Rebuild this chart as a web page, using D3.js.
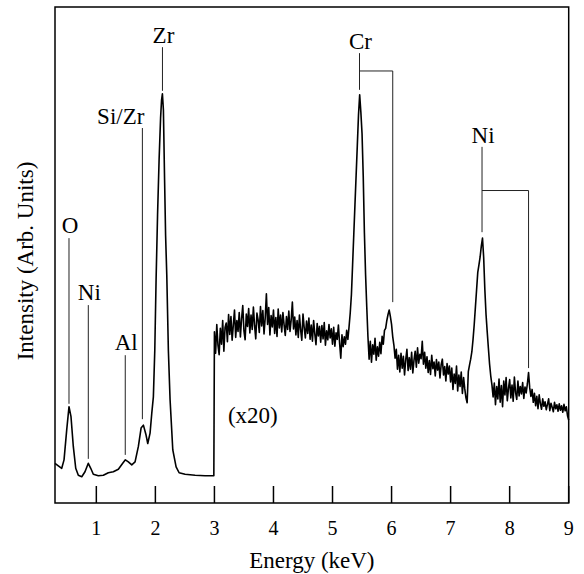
<!DOCTYPE html>
<html>
<head>
<meta charset="utf-8">
<script src="https://cdn.jsdelivr.net/npm/d3@7"></script>
</head>
<body style="margin:0">
<svg width="584" height="574"></svg>
<script>
var serif = "'Liberation Serif'"

// low energy part of the spectrum (smooth trace), keV / arb. units
var lowEnergy = [0.300,0.356,0.414,0.453,0.498,0.537,0.571,0.610,0.651,0.695,
                 0.753,0.808,0.864,0.905,0.949,1.034,1.119,1.203,1.288,1.373,
                 1.447,1.492,1.542,1.600,1.656,1.712,1.758,1.797,1.842,1.871,
                 1.910,1.939,1.966,1.990,2.012,2.037,2.063,2.088,2.105,2.119,
                 2.136,2.156,2.173,2.193,2.220,2.249,2.295,2.351,2.402,2.503,
                 2.673,2.842,2.990]
var lowCounts = [8.0,7.5,7.0,8.7,14.7,19.4,17.4,11.4,7.0,5.6,
                 5.3,6.3,8.0,7.0,5.8,5.5,5.6,6.1,6.3,6.8,
                 8.0,8.7,8.3,7.7,8.3,11.4,15.1,15.7,13.7,12.0,
                 14.1,18.1,21.4,30.8,45.0,58.1,69.2,77.6,81.3,82.5,
                 79.2,65.1,54.0,46.0,30.8,20.8,10.7,7.3,6.1,5.8,
                 5.6,5.5,5.5]

// high energy part (x20), one value per 20 eV channel
var chStart = 3.0
var chStep = 0.02
var highCounts = [
 34.5,30.2,36.0,31.8,29.9,35.2,32.0,36.8,30.6,35.4,
 36.3,32.5,38.0,34.0,37.6,32.8,35.9,38.9,33.4,36.8,
 34.6,38.4,33.5,37.2,39.8,34.7,32.9,38.1,35.6,39.2,
 34.3,37.9,35.0,39.5,35.8,33.1,38.3,36.9,34.4,39.6,
 35.7,38.8,34.1,37.3,42.2,36.0,39.4,33.9,37.8,35.5,
 38.9,34.2,37.4,33.6,39.1,35.3,37.9,34.5,38.4,35.9,
 33.8,37.6,35.0,38.7,34.6,36.9,40.5,35.1,37.5,33.9,
 36.8,33.4,37.9,34.9,32.8,38.1,35.4,33.3,36.7,34.2,
 37.3,33.0,35.9,32.6,36.8,34.1,31.9,36.2,33.7,35.6,
 32.4,35.8,33.1,36.4,31.8,34.7,32.9,36.0,33.3,35.1,
 32.0,35.4,31.6,34.3,33.0,35.9,32.2,29.2,33.9,31.5,
 33.5,32.0,34.8,33.0,35.5,38.3,42.0,48.0,54.1,60.1,
 66.1,72.1,78.2,82.3,78.8,74.5,66.0,54.5,46.0,39.5,
 33.5,29.0,32.6,28.4,31.9,30.0,33.2,28.8,31.5,29.6,
 32.4,30.1,33.6,32.0,34.8,35.2,36.8,38.0,38.9,37.6,
 36.0,33.5,31.8,29.2,31.0,27.0,29.8,26.4,30.2,27.2,
 29.6,25.8,28.9,31.0,26.7,29.3,27.0,30.4,26.2,28.8,
 30.6,27.4,31.3,28.2,30.0,29.1,32.6,28.0,30.4,27.2,
 29.5,26.3,28.7,25.9,29.8,27.1,28.4,25.6,28.9,26.8,
 28.4,25.2,27.9,29.0,25.8,27.5,24.6,28.1,26.0,27.6,
 24.4,27.2,22.9,26.0,24.1,27.6,22.6,25.8,23.5,26.4,
 22.1,25.3,23.0,21.2,20.2,26.5,27.8,29.0,30.5,33.0,
 36.0,39.5,43.0,46.5,48.0,49.6,51.8,53.4,49.5,43.0,
 38.0,34.5,31.2,28.0,25.6,23.8,21.4,24.2,19.8,23.5,
 21.0,25.0,20.3,23.7,19.4,24.6,21.8,25.3,20.6,23.1,
 24.9,21.2,23.8,20.5,25.4,22.3,20.9,24.6,21.6,23.5,
 22.0,24.3,21.1,23.4,22.2,24.0,26.3,23.2,21.5,22.9,
 20.3,22.1,19.6,21.5,19.0,21.8,20.1,18.9,21.0,19.5,
 20.4,18.8,19.9,21.0,18.6,20.1,19.3,18.4,20.3,19.0,
 19.8,18.5,20.0,18.7,19.6,18.3,19.9,18.6,19.4,17.6,
 16.7]

var xTicks = [1,2,3,4,5,6,7,8,9]

var peakNames = ["O","Ni","Al","Si/Zr","Zr","Cr","Ni"]
var peakEnergies = [0.537,0.864,1.49,1.78,2.12,5.457,7.532]
var betaEnergies = [null,null,null,null,null,6.02,8.32]

// serif text with the font set the plain way
var addText = function(parent,str,size)
{
    return parent.append("text")
        .attr("font-size",size)
        .style("font-family",serif)
        .text(str)
}

var drawAxes = function(graph,target,xScale)
{
    // ticks drawn by hand from the scale, pointing into the plot
    var axisG = target.append("g")
        .attr("transform","translate(0,"+graph.height+")")

    var ticks = axisG.selectAll("g.tick")
        .data(xTicks)
        .enter()
        .append("g")
        .attr("class","tick")
        .attr("transform",function(d){return "translate("+xScale(d)+",0)"})

    ticks.append("line")
        .attr("y1",0).attr("y2",-17)
        .attr("stroke","#000").attr("stroke-width",1.5)

    ticks.each(function(d)
    {
        addText(d3.select(this),d,20)
            .attr("text-anchor","middle")
            .attr("y",32)
    })

    // frame
    target.append("rect")
        .attr("x",0).attr("y",0)
        .attr("width",graph.width).attr("height",graph.height)
        .attr("fill","none")
        .attr("stroke","#000")
        .attr("stroke-width",1.5)
}

var drawLabels = function(graph,margins)
{
    var labels = d3.select("svg").append("g")

    addText(labels,"Energy (keV)",23)
        .attr("text-anchor","middle")
        .attr("x",margins.left+graph.width/2)
        .attr("y",568)

    addText(labels,"Intensity (Arb. Units)",23)
        .attr("text-anchor","middle")
        .attr("transform","translate(33,"+(margins.top+graph.height/2+6)+") rotate(-90)")
}

var drawPeaks = function(target,xScale,yScale)
{
    // label baseline, line top, line bottom (arb. units)
    var layout = [
        {label:54.4, top:53.4, bottom:20.0},
        {label:40.9, top:39.9, bottom:8.9},
        {label:30.8, top:29.8, bottom:9.7},
        {label:76.4, top:75.6, bottom:16.9},
        {label:92.7, top:91.9, bottom:83.1},
        {label:91.5, top:90.7, bottom:83.3, bracket:87.1, betaBottom:40.5},
        {label:72.6, top:71.8, bottom:54.6, bracket:63.0, betaBottom:27.2}
    ]

    var peaks = target.append("g")

    peakNames.forEach(function(name,i)
    {
        var lay = layout[i]
        var x = xScale(peakEnergies[i])
        var g = peaks.append("g")

        g.append("line")
            .attr("x1",x).attr("x2",x)
            .attr("y1",yScale(lay.top)).attr("y2",yScale(lay.bottom))
            .attr("stroke","#222").attr("stroke-width",1)

        var t = addText(g,name,23)
            .attr("y",yScale(lay.label))
        if(name=="Si/Zr")
        {
            t.attr("text-anchor","end").attr("x",x+2)
        }
        else
        {
            t.attr("text-anchor","middle").attr("x",x+1)
        }

        if(betaEnergies[i]!=null)
        {
            var xb = xScale(betaEnergies[i])
            g.append("polyline")
                .attr("points",x+","+yScale(lay.bracket)+" "+xb+","+yScale(lay.bracket)+" "+xb+","+yScale(lay.betaBottom))
                .attr("fill","none")
                .attr("stroke","#222").attr("stroke-width",1)
        }
    })

    addText(peaks,"(x20)",23)
        .attr("text-anchor","middle")
        .attr("x",xScale(3.65))
        .attr("y",yScale(16.1))
}

var initGraph = function()
{
    var screen = {width:584,height:574}
    var margins = {left:55,right:15.3,top:7,bottom:71}
    var graph =
        {
            width:screen.width-margins.left-margins.right,
            height:screen.height-margins.top-margins.bottom
        }

    var target = d3.select("svg")
        .append("g")
        .attr("id","graph")
        .attr("transform","translate("+margins.left+","+margins.top+")")

    var xScale = d3.scaleLinear()
        .domain([0.3,9])
        .range([0,graph.width])

    var yScale = d3.scaleLinear()
        .domain([0,100])
        .range([graph.height,0])

    var points = lowEnergy.map(function(e,i){return {e:e,v:lowCounts[i]}})
    highCounts.forEach(function(v,i){points.push({e:chStart+i*chStep,v:v})})

    var line = d3.line()
        .x(function(d){return xScale(d.e)})
        .y(function(d){return yScale(d.v)})

    drawPeaks(target,xScale,yScale)

    target.append("path")
        .datum(points)
        .attr("d",line)
        .attr("fill","none")
        .attr("stroke","#000")
        .attr("stroke-width",1.6)
        .attr("stroke-linejoin","round")

    drawAxes(graph,target,xScale)
    drawLabels(graph,margins)
}

initGraph()
</script>
</body>
</html>
